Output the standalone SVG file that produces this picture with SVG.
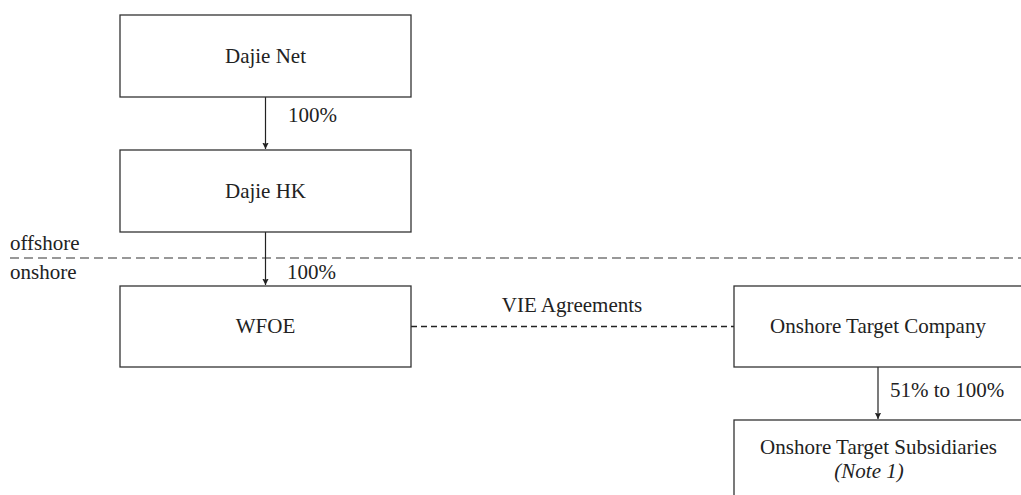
<svg xmlns="http://www.w3.org/2000/svg" width="1021" height="495" viewBox="0 0 1021 495">
<style>
.box{fill:#fff;stroke:#333;stroke-width:1.3}
.c{text-anchor:middle}
.conn{stroke:#222;stroke-width:1.2;fill:none}
.dash{stroke:#222;stroke-width:1.3;stroke-dasharray:6 4;fill:none}
.sep{stroke:#777;stroke-width:1.5;stroke-dasharray:9 5;fill:none}
</style>
<defs>
<marker id="arr" viewBox="0 0 10 10" refX="10" refY="5" markerWidth="6.5" markerHeight="10" orient="auto" markerUnits="userSpaceOnUse">
<path d="M0,0 L10,5 L0,10 L2,5 z" fill="#222"/>
</marker>
</defs>
<g font-family="Liberation Serif, DejaVu Serif, serif" font-size="21" fill="#222">
<path class="sep" d="M10,258 H1021"/>
<text x="10" y="250">offshore</text>
<text x="10" y="279">onshore</text>
<g id="connectors">
<path class="conn" d="M265.5,97 V149" marker-end="url(#arr)"/>
<text x="288" y="122">100%</text>
<path class="conn" d="M265.5,232 V285" marker-end="url(#arr)"/>
<text x="287" y="279">100%</text>
<path class="dash" d="M411,326.5 H734"/>
<text class="c" x="572" y="312">VIE Agreements</text>
<path class="conn" d="M878,367 V419" marker-end="url(#arr)"/>
<text x="890" y="397">51% to 100%</text>
</g>
<g id="dajie-net">
<rect class="box" x="120" y="15" width="291" height="82"/>
<text class="c" x="265.5" y="63">Dajie Net</text>
</g>
<g id="dajie-hk">
<rect class="box" x="120" y="150" width="291" height="82"/>
<text class="c" x="265.5" y="198">Dajie HK</text>
</g>
<g id="wfoe">
<rect class="box" x="120" y="286" width="291" height="81"/>
<text class="c" x="265.5" y="333">WFOE</text>
</g>
<g id="onshore-target-company">
<rect class="box" x="734" y="286" width="300" height="81"/>
<text class="c" x="878" y="333">Onshore Target Company</text>
</g>
<g id="onshore-target-subsidiaries">
<rect class="box" x="734" y="420" width="300" height="90"/>
<text class="c" x="878.5" y="454">Onshore Target Subsidiaries</text>
<text class="c" x="869" y="478" font-style="italic">(Note 1)</text>
</g>
</g>
</svg>
